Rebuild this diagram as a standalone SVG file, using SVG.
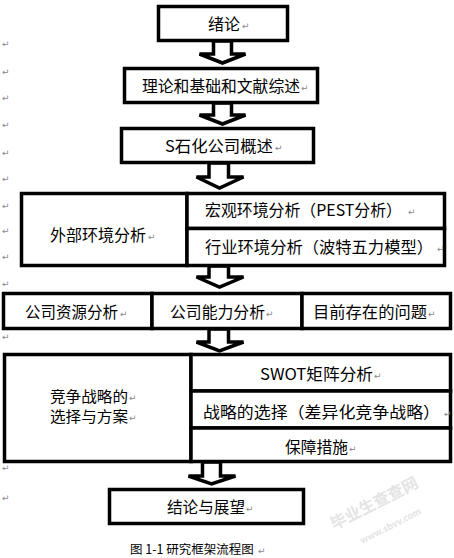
<svg xmlns="http://www.w3.org/2000/svg" width="454" height="558" viewBox="0 0 454 558">
<style>
  .box { fill: #fff; stroke: #000; stroke-width: 3.5; }
  .arr { fill: #fff; stroke: #000; stroke-width: 3.5; stroke-linejoin: miter; }
  .t { font-family: "Noto Sans CJK SC", "DejaVu Sans", sans-serif; font-size: 16px; fill: #000; }
  .t15 { font-size: 15px; }
  .cap { font-size: 12.5px; }
  .pm { font-family: "DejaVu Sans", sans-serif; font-size: 9px; fill: #888; }
  .wm { font-family: "Noto Sans CJK SC", sans-serif; font-weight: bold; fill: #e4e4e4; }
</style>
<rect width="454" height="558" fill="#fff"/>

<g id="connectors">
  <polygon class="arr" points="213.5,41 231.5,41 231.5,54 245.5,54 222.5,63 199.5,54 213.5,54 213.5,41"/>
  <polygon class="arr" points="213.5,103 231.5,103 231.5,115 245.5,115 222.5,124 199.5,115 213.5,115"/>
  <polygon class="arr" points="209,163 228.5,163 228.5,177 243.5,177 219.5,188 196.5,177 209,177"/>
  <polygon class="arr" points="209,266 228.5,266 228.5,277 243.5,277 219.5,287 196.5,277 209,277"/>
  <polygon class="arr" points="209,329 228.5,329 228.5,342 243.5,342 219.5,351 196.5,342 209,342"/>
  <polygon class="arr" points="202.5,462 220.5,462 220.5,476 235.5,476 211.5,484 188.5,476 202.5,476"/>
</g>

<g id="n-intro">
  <rect class="box" x="158.5" y="6.5" width="129" height="34"/>
  <text class="t" x="208" y="30" textLength="32" lengthAdjust="spacingAndGlyphs">绪论</text>
  <text class="pm" x="242" y="29">↵</text>
</g>
<g id="n-theory">
  <rect class="box" x="124.5" y="68.5" width="193" height="34"/>
  <text class="t" x="142" y="92" textLength="158" lengthAdjust="spacingAndGlyphs">理论和基础和文献综述</text>
  <text class="pm" x="301" y="91">↵</text>
</g>
<g id="n-company">
  <rect class="box" x="121.5" y="128.5" width="192" height="34"/>
  <text class="t" x="165" y="152" textLength="108" lengthAdjust="spacingAndGlyphs">S石化公司概述</text>
  <text class="pm" x="275" y="151">↵</text>
</g>
<g id="n-external">
  <rect class="box" x="21.5" y="193.5" width="165.5" height="72"/>
  <rect class="box" x="187" y="193.5" width="257.5" height="35"/>
  <rect class="box" x="187" y="228.5" width="257.5" height="37"/>
  <text class="t" x="50" y="241" textLength="96" lengthAdjust="spacingAndGlyphs">外部环境分析</text>
  <text class="pm" x="148" y="240">↵</text>
  <text class="t" x="205" y="216" textLength="197" lengthAdjust="spacingAndGlyphs">宏观环境分析（PEST分析）</text>
  <text class="pm" x="408" y="215">↵</text>
  <text class="t" x="205" y="253" textLength="228" lengthAdjust="spacingAndGlyphs">行业环境分析（波特五力模型）</text>
  <text class="pm" x="437" y="252">↵</text>
</g>
<g id="n-internal">
  <rect class="box" x="3.5" y="293.5" width="148.5" height="35"/>
  <rect class="box" x="152" y="293.5" width="150" height="35"/>
  <rect class="box" x="302" y="293.5" width="148.5" height="35"/>
  <text class="t" x="25" y="318" textLength="93" lengthAdjust="spacingAndGlyphs">公司资源分析</text>
  <text class="pm" x="120" y="317">↵</text>
  <text class="t" x="170" y="318" textLength="95" lengthAdjust="spacingAndGlyphs">公司能力分析</text>
  <text class="pm" x="266" y="317">↵</text>
  <text class="t" x="313" y="318" textLength="114" lengthAdjust="spacingAndGlyphs">目前存在的问题</text>
  <text class="pm" x="428" y="317">↵</text>
</g>
<g id="n-strategy">
  <rect class="box" x="4.5" y="354.5" width="186.5" height="107"/>
  <rect class="box" x="191" y="354.5" width="259.5" height="36.5"/>
  <rect class="box" x="191" y="391" width="259.5" height="37"/>
  <rect class="box" x="191" y="428" width="259.5" height="33.5"/>
  <text class="t t15" x="50" y="402" textLength="78" lengthAdjust="spacingAndGlyphs">竞争战略的</text>
  <text class="pm" x="129" y="401">↵</text>
  <text class="t t15" x="50" y="422" textLength="78" lengthAdjust="spacingAndGlyphs">选择与方案</text>
  <text class="pm" x="129" y="421">↵</text>
  <text class="t" x="260" y="380" textLength="113" lengthAdjust="spacingAndGlyphs">SWOT矩阵分析</text>
  <text class="pm" x="374" y="379">↵</text>
  <text class="t" x="203" y="418" textLength="237" lengthAdjust="spacingAndGlyphs">战略的选择（差异化竞争战略）</text>
  <text class="pm" x="444" y="417">↵</text>
  <text class="t" x="285" y="453" textLength="63" lengthAdjust="spacingAndGlyphs">保障措施</text>
  <text class="pm" x="349" y="452">↵</text>
</g>
<g id="n-conclusion">
  <rect class="box" x="109.5" y="489.5" width="194" height="34"/>
  <text class="t" x="167" y="513" textLength="78" lengthAdjust="spacingAndGlyphs">结论与展望</text>
  <text class="pm" x="246" y="512">↵</text>
</g>

<g id="caption">
  <text class="t cap" x="130" y="554">图&#160;1-1&#160;研究框架流程图</text>
  <text class="pm" x="258" y="554">↵</text>
</g>

<g id="margin-marks">
  <text class="pm" x="2" y="47">↵</text>
  <text class="pm" x="2" y="75">↵</text>
  <text class="pm" x="2" y="101">↵</text>
  <text class="pm" x="2" y="128">↵</text>
  <text class="pm" x="2" y="156">↵</text>
  <text class="pm" x="2" y="182">↵</text>
  <text class="pm" x="2" y="209">↵</text>
  <text class="pm" x="2" y="234">↵</text>
  <text class="pm" x="2" y="260">↵</text>
  <text class="pm" x="2" y="287">↵</text>
  <text class="pm" x="2" y="340">↵</text>
  <text class="pm" x="2" y="471">↵</text>
  <text class="pm" x="2" y="501">↵</text>
</g>

<g id="watermark">
  <text class="wm" x="0" y="0" font-size="16" transform="translate(334,530) rotate(-27)">毕业生查查网</text>
  <text class="wm" x="0" y="0" font-size="9" transform="translate(362,544) rotate(-27)">www.sbvv.com</text>
</g>
</svg>
